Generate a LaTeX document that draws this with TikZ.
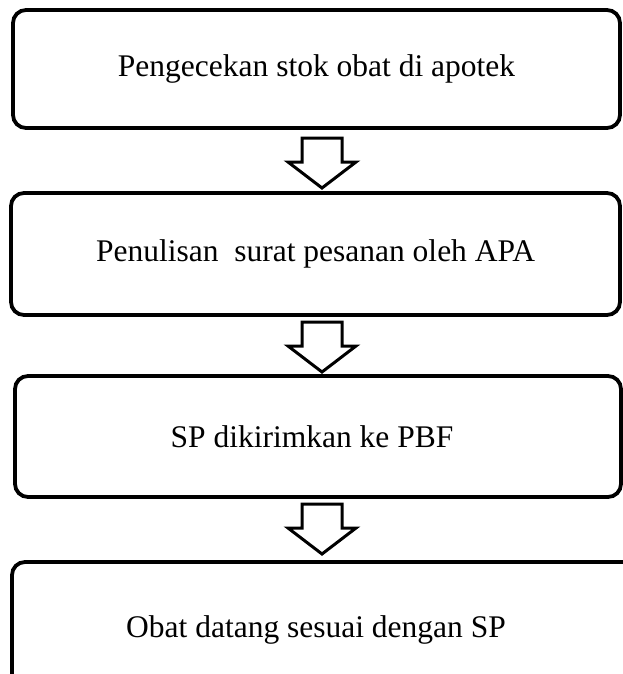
\documentclass[tikz,border=0pt]{standalone}
\usepackage{fontspec}
\setmainfont{Liberation Serif}
\begin{document}
\begin{tikzpicture}[x=1pt,y=-1pt]
\tikzset{
  stepbox/.style={draw=black, line width=3.8pt, rounded corners=13pt, inner sep=0pt,
    font=\fontsize{31.5}{36}\selectfont},
  blockarrow/.style={draw=black, line width=3pt, fill=white, line join=miter},
  downarrow/.pic={\draw[blockarrow] (-20,0) -- (20,0) -- (20,24) -- (34,24) -- (0,50) -- (-34,24) -- (-20,24) -- cycle;}
}
\useasboundingbox (0,0) rectangle (623,674);
\clip (0,0) rectangle (623,674);
\fill[white] (0,0) rectangle (623,674);
\node[stepbox, minimum width=607pt, minimum height=118pt] (b1) at (316.5,69) {Pengecekan stok obat di apotek};
\node[stepbox, minimum width=609pt, minimum height=122pt] (b2) at (315.5,254) {Penulisan \ surat pesanan oleh APA};
\node[stepbox, minimum width=606pt, minimum height=121pt] (b3) at (318,436.5) {SP dikirimkan ke PBF\rule{12pt}{0pt}};
\node[stepbox, minimum width=640pt, minimum height=136pt] (b4) at (332,630) {Obat datang sesuai dengan SP\rule{32pt}{0pt}};
\pic (a1) at (322,138) {downarrow};
\pic (a2) at (322,322) {downarrow};
\pic (a3) at (322,504) {downarrow};
\end{tikzpicture}
\end{document}
